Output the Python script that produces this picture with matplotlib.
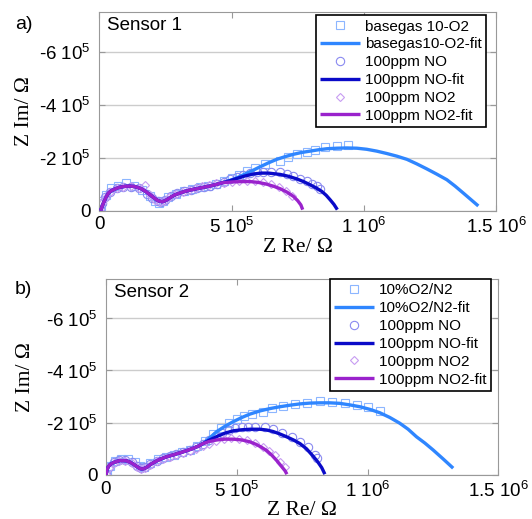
import matplotlib
matplotlib.use('Agg')
import matplotlib.pyplot as plt
import numpy as np

plt.rcParams['font.family'] = ['Liberation Sans', 'DejaVu Sans']
plt.rcParams['mathtext.fontset'] = 'custom'
plt.rcParams['mathtext.rm'] = 'Liberation Sans'

# ........................................ data, units of 1e5 Ohm, -Z Im positive
# Sensor 1 - fits
a_arc_re = [0.05, 0.09, 0.15, 0.25, 0.34, 0.45, 0.59, 0.75, 0.97, 1.15, 1.29, 1.45, 1.60, 1.76, 1.92,
            2.05, 2.17, 2.27, 2.36, 2.45, 2.55, 2.70, 2.86, 3.05, 3.24, 3.43, 3.62, 3.87, 4.12, 4.37, 4.63]
a_arc_im = [0.0, 0.12, 0.28, 0.50, 0.66, 0.75, 0.82, 0.88, 0.92, 0.93, 0.92, 0.88, 0.82, 0.72, 0.60,
            0.50, 0.41, 0.36, 0.34, 0.36, 0.41, 0.51, 0.60, 0.67, 0.73, 0.78, 0.82, 0.87, 0.92, 0.98, 1.05]
a_base_fit_re = [4.9, 5.2, 5.5, 5.8, 6.08, 6.4, 6.71, 7.02, 7.34, 7.65, 7.97, 8.28, 8.60, 8.98, 9.36, 9.74,
                 10.11, 10.49, 10.87, 11.25, 11.63, 12.0, 12.38, 12.76, 13.14, 13.45, 13.77, 14.05, 14.33]
a_base_fit_im = [1.13, 1.24, 1.38, 1.52, 1.66, 1.81, 1.94, 2.04, 2.13, 2.20, 2.25, 2.30, 2.34, 2.36, 2.37, 2.36,
                 2.32, 2.25, 2.16, 2.06, 1.94, 1.77, 1.58, 1.38, 1.17, 0.93, 0.66, 0.42, 0.18]
a_no_fit_re = [4.9, 5.2, 5.5, 5.8, 6.1, 6.4, 6.84, 7.15, 7.47, 7.72, 7.97, 8.2, 8.41, 8.58, 8.73, 8.87, 9.0]
a_no_fit_im = [1.12, 1.22, 1.31, 1.38, 1.42, 1.42, 1.37, 1.30, 1.20, 1.10, 0.98, 0.86, 0.73, 0.58, 0.41, 0.24, 0.04]
a_no2_fit_re = [4.8, 5.1, 5.4, 5.7, 6.0, 6.3, 6.6, 6.84, 7.1, 7.34, 7.5, 7.62, 7.69]
a_no2_fit_im = [1.07, 1.09, 1.10, 1.10, 1.07, 1.01, 0.92, 0.83, 0.70, 0.54, 0.38, 0.22, 0.04]
# Sensor 1 - measured
a_base_re = [0.05, 0.12, 0.25, 0.45, 0.7, 1.0, 1.3, 1.6, 1.9, 2.1, 2.25, 2.4, 2.6, 2.9, 3.2, 3.5, 3.8, 4.1,
             4.4, 4.7, 5.0, 5.3, 5.6, 5.9, 6.27, 6.84, 7.15, 7.47, 7.85, 8.16, 8.54, 8.98, 9.40]
a_base_im = [0.05, 0.35, 0.6, 0.85, 0.95, 1.05, 0.95, 0.8, 0.55, 0.38, 0.3, 0.38, 0.5, 0.65, 0.75, 0.82, 0.88, 0.95,
             1.02, 1.12, 1.22, 1.35, 1.5, 1.62, 1.75, 1.87, 2.04, 2.13, 2.22, 2.30, 2.39, 2.45, 2.49]
a_no_re = [0.03, 0.1, 0.2, 0.4, 0.65, 0.9, 1.2, 1.5, 1.8, 2.0, 2.2, 2.35, 2.5, 2.7, 2.95, 3.2, 3.45, 3.7, 3.95,
           4.2, 4.45, 4.7, 4.95, 5.2, 5.45, 5.7, 5.95, 6.2, 6.5, 6.84, 7.1, 7.34, 7.6, 7.84, 8.05, 8.22, 8.35]
a_no_im = [0.05, 0.3, 0.5, 0.72, 0.85, 0.9, 0.9, 0.85, 0.65, 0.48, 0.36, 0.33, 0.42, 0.55, 0.66, 0.74, 0.8, 0.85, 0.9,
           0.95, 1.02, 1.1, 1.18, 1.27, 1.35, 1.41, 1.45, 1.47, 1.47, 1.45, 1.38, 1.30, 1.21, 1.11, 1.01, 0.92, 0.82]
a_no2_re = [0.03, 0.1, 0.2, 0.4, 0.65, 0.9, 1.2, 1.5, 1.73, 1.9, 2.1, 2.3, 2.45, 2.65, 2.9, 3.15, 3.4, 3.65, 3.9,
            4.15, 4.4, 4.7, 5.0, 5.3, 5.6, 5.9, 6.2, 6.5, 6.8, 7.05, 7.3]
a_no2_im = [0.05, 0.28, 0.48, 0.7, 0.85, 0.9, 0.92, 0.85, 0.98, 0.58, 0.42, 0.34, 0.38, 0.5, 0.62, 0.72, 0.8, 0.86, 0.92,
            0.98, 1.03, 1.06, 1.09, 1.12, 1.13, 1.12, 1.08, 1.0, 0.88, 0.74, 0.55]

# Sensor 2 - fits
b_arc_re = [0.01, 0.05, 0.10, 0.18, 0.29, 0.42, 0.55, 0.68, 0.80, 0.93, 1.05, 1.15, 1.24, 1.31, 1.37, 1.45,
            1.56, 1.68, 1.82, 2.05, 2.33, 2.58, 2.84, 3.09, 3.34, 3.55, 3.73]
b_arc_im = [0.0, 0.2, 0.32, 0.41, 0.47, 0.52, 0.55, 0.55, 0.54, 0.49, 0.42, 0.35, 0.29, 0.25, 0.23, 0.24,
            0.29, 0.38, 0.47, 0.59, 0.70, 0.77, 0.85, 0.93, 1.02, 1.11, 1.21]
b_o2_fit_re = [3.95, 4.24, 4.55, 4.87, 5.2, 5.51, 5.89, 6.27, 6.65, 7.04, 7.42, 7.8, 8.18, 8.56, 8.94, 9.33,
               9.71, 10.09, 10.47, 10.85, 11.23, 11.55, 11.87, 12.19, 12.50, 12.88, 13.27]
b_o2_fit_im = [1.40, 1.66, 1.86, 2.04, 2.20, 2.33, 2.45, 2.54, 2.61, 2.67, 2.72, 2.75, 2.76, 2.76, 2.74, 2.68,
               2.61, 2.51, 2.38, 2.20, 1.98, 1.75, 1.46, 1.22, 0.96, 0.62, 0.26]
b_no_fit_re = [3.95, 4.24, 4.55, 4.87, 5.2, 5.51, 5.89, 6.15, 6.40, 6.65, 6.91, 7.17, 7.42, 7.67, 7.92, 8.1, 8.25, 8.37]
b_no_fit_im = [1.33, 1.47, 1.60, 1.69, 1.73, 1.75, 1.75, 1.72, 1.66, 1.57, 1.46, 1.34, 1.20, 1.0, 0.72, 0.50, 0.28, 0.03]
b_no2_fit_re = [3.95, 4.24, 4.55, 4.87, 5.2, 5.5, 5.75, 5.95, 6.15, 6.35, 6.55, 6.72, 6.85, 6.92]
b_no2_fit_im = [1.28, 1.34, 1.37, 1.37, 1.34, 1.27, 1.17, 1.06, 0.93, 0.75, 0.53, 0.32, 0.16, 0.03]
# Sensor 2 - measured
b_o2_re = [0.05, 0.15, 0.35, 0.6, 0.85, 1.1, 1.3, 1.45, 1.7, 2.0, 2.3, 2.6, 2.9, 3.2, 3.5, 3.8, 4.1, 4.4, 4.7,
           5.0, 5.3, 5.6, 6.02, 6.34, 6.78, 7.23, 7.67, 8.18, 8.63, 9.13, 9.58, 10.02, 10.47]
b_o2_im = [0.05, 0.35, 0.55, 0.6, 0.6, 0.5, 0.35, 0.3, 0.45, 0.6, 0.7, 0.78, 0.87, 0.97, 1.1, 1.3, 1.55, 1.8, 2.0,
           2.15, 2.25, 2.35, 2.42, 2.55, 2.64, 2.72, 2.76, 2.83, 2.80, 2.74, 2.68, 2.59, 2.46]
b_no_re = [0.03, 0.12, 0.3, 0.5, 0.75, 1.0, 1.2, 1.35, 1.5, 1.7, 1.95, 2.2, 2.45, 2.7, 2.95, 3.2, 3.45, 3.7,
           3.95, 4.2, 4.45, 4.7, 4.95, 5.2, 5.45, 5.7, 6.08, 6.40, 6.72, 7.10, 7.42, 7.73, 7.99, 8.08]
b_no_im = [0.05, 0.3, 0.48, 0.56, 0.57, 0.48, 0.34, 0.25, 0.3, 0.42, 0.55, 0.65, 0.73, 0.8, 0.88, 0.97, 1.08, 1.2,
           1.35, 1.5, 1.62, 1.72, 1.78, 1.82, 1.84, 1.84, 1.82, 1.75, 1.62, 1.46, 1.27, 1.06, 0.76, 0.64]
b_no2_re = [0.03, 0.12, 0.3, 0.5, 0.75, 1.0, 1.2, 1.35, 1.5, 1.7, 1.95, 2.2, 2.45, 2.7, 2.95, 3.2, 3.45, 3.7,
            3.95, 4.2, 4.5, 4.8, 5.1, 5.4, 5.7, 6.0, 6.25, 6.45, 6.65, 6.84]
b_no2_im = [0.05, 0.28, 0.45, 0.54, 0.55, 0.45, 0.32, 0.24, 0.28, 0.4, 0.52, 0.62, 0.70, 0.77, 0.84, 0.92, 1.0, 1.1,
            1.2, 1.3, 1.36, 1.40, 1.38, 1.32, 1.22, 1.08, 0.92, 0.75, 0.51, 0.32]

labels_a = ['basegas 10-O2', 'basegas10-O2-fit', '100ppm NO', '100ppm NO-fit', '100ppm NO2', '100ppm NO2-fit']
labels_b = ['10%O2/N2', '10%O2/N2-fit', '100ppm NO', '100ppm NO-fit', '100ppm NO2', '100ppm NO2-fit']
xticks = [0, 5e5, 1e6, 1.5e6]
xticklabels = ['0', r'5 10$^{\mathregular{5}}$', r'1 10$^{\mathregular{6}}$', r'1.5 10$^{\mathregular{6}}$']
yticks = [0, 2e5, 4e5, 6e5]
yticklabels = ['0', r'-2 10$^{\mathregular{5}}$', r'-4 10$^{\mathregular{5}}$', r'-6 10$^{\mathregular{5}}$']

# ........................................................ styles
c_sq, c_ci, c_di = '#8cb6ff', '#8a8af0', '#c79cf2'
c_l1, c_l2, c_l3 = '#2f86ff', '#0a0ac8', '#9a22cc'
S = 1e5

fig = plt.figure(figsize=(5.32, 5.19), dpi=100)


def panel(rect, meas, fits, labels, title, leg_anchor, xl_y, yl_x):
  ax = fig.add_axes(rect)
  handles = []
  styles = [('s', c_sq, c_l1), ('o', c_ci, c_l2), ('D', c_di, c_l3)]
  for (mre, mim), (fre, fim), (mk, mc, lc) in zip(meas, fits, styles):
    ms = 6 if mk != 'D' else 4.5
    h1, = ax.plot(np.array(mre) * S, np.array(mim) * S, mk, ms=ms, mfc='none', mec=mc, mew=0.8, zorder=2)
    h2, = ax.plot(np.array(fre) * S, np.array(fim) * S, '-', color=lc, lw=2.4, zorder=3, solid_capstyle='butt')
    handles += [h1, h2]
  ax.set_xlim(0, 1.5e6)
  ax.set_ylim(0, 7.5e5)
  ax.set_xticks(xticks)
  ax.set_xticklabels(xticklabels)
  ax.set_yticks(yticks)
  ax.set_yticklabels(yticklabels)
  ax.tick_params(labelsize=13.5, direction='in', length=4, color='#999999', top=True, right=True)
  ax.tick_params(axis='x', pad=4)
  ax.tick_params(axis='y', pad=6)
  ax.grid(axis='y', color='#cccccc', lw=1)
  for s in ax.spines.values():
    s.set_color('#999999')
  ax.set_xlabel('Z Re/ \u03a9', family='Liberation Serif', fontsize=15.5)
  ax.set_ylabel('Z Im/ \u03a9', family='Liberation Serif', fontsize=15.5)
  ax.xaxis.set_label_coords(0.5, xl_y)
  ax.yaxis.set_label_coords(yl_x, 0.5)
  ax.text(0.02, 0.93, title, transform=ax.transAxes, fontsize=13.5, va='center', ha='left')
  leg = ax.legend(handles, labels, loc='upper right', bbox_to_anchor=leg_anchor, borderaxespad=0,
                  fontsize=11, numpoints=1, handlelength=2.6, handletextpad=0.3, labelspacing=0.25,
                  borderpad=0.3, fancybox=False, framealpha=1)
  leg.get_frame().set_edgecolor('black')
  leg.get_frame().set_linewidth(1.2)
  return ax


panel([0.1867, 0.594, 0.7457, 0.3827],
      [(a_base_re, a_base_im), (a_no_re, a_no_im), (a_no2_re, a_no2_im)],
      [(a_arc_re + a_base_fit_re, a_arc_im + a_base_fit_im),
       (a_arc_re + a_no_fit_re, a_arc_im + a_no_fit_im),
       (a_arc_re + a_no2_fit_re, a_arc_im + a_no2_fit_im)],
      labels_a, 'Sensor 1', (0.975, 0.985), -0.135, -0.165)
panel([0.1987, 0.0848, 0.7383, 0.3778],
      [(b_o2_re, b_o2_im), (b_no_re, b_no_im), (b_no2_re, b_no2_im)],
      [(b_arc_re + b_o2_fit_re, b_arc_im + b_o2_fit_im),
       (b_arc_re + b_no_fit_re, b_arc_im + b_no_fit_im),
       (b_arc_re + b_no2_fit_re, b_arc_im + b_no2_fit_im)],
      labels_b, 'Sensor 2', (0.98, 1.0), -0.135, -0.18)

fig.text(0.028, 0.952, 'a)', fontsize=14, va='center', ha='left')
fig.text(0.028, 0.443, 'b)', fontsize=14, va='center', ha='left')

fig.savefig('out.png', dpi=100)
